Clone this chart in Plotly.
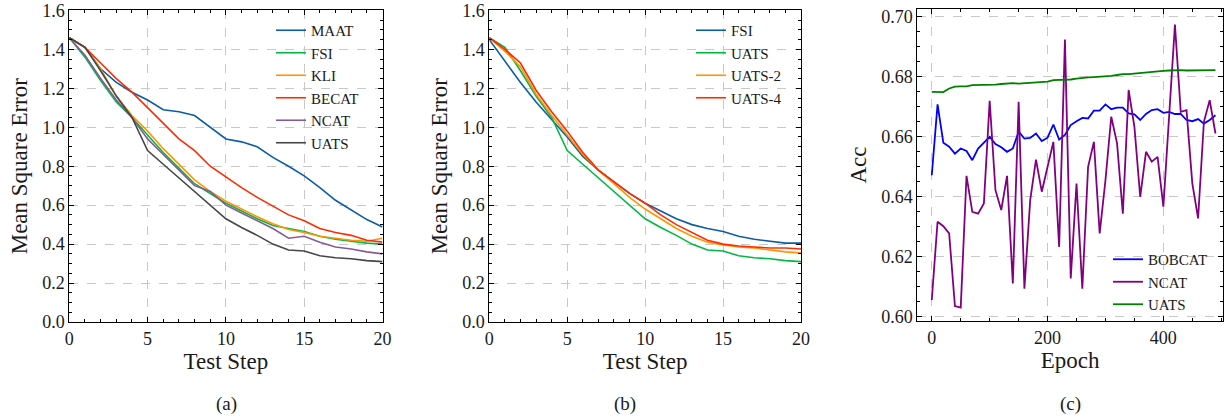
import plotly.graph_objects as go

# ---------------- data ----------------
steps = list(range(21))

# panel (a)
a_maat = [1.46, 1.41, 1.30, 1.23, 1.18, 1.14, 1.09, 1.08, 1.06, 1.00, 0.94, 0.925, 0.90, 0.845, 0.80, 0.75, 0.69, 0.625, 0.574, 0.526, 0.488]
a_fsi = [1.46, 1.36, 1.24, 1.13, 1.05, 0.96, 0.87, 0.79, 0.71, 0.66, 0.61, 0.57, 0.53, 0.495, 0.48, 0.465, 0.44, 0.425, 0.415, 0.405, 0.40]
a_kli = [1.46, 1.41, 1.30, 1.16, 1.06, 0.98, 0.89, 0.81, 0.73, 0.67, 0.62, 0.58, 0.54, 0.505, 0.475, 0.46, 0.44, 0.43, 0.42, 0.415, 0.43]
a_becat = [1.46, 1.41, 1.33, 1.25, 1.18, 1.10, 1.02, 0.94, 0.88, 0.80, 0.745, 0.69, 0.64, 0.595, 0.55, 0.52, 0.48, 0.46, 0.445, 0.42, 0.41]
a_ncat = [1.46, 1.37, 1.25, 1.14, 1.05, 0.94, 0.86, 0.78, 0.70, 0.67, 0.60, 0.56, 0.52, 0.48, 0.43, 0.44, 0.41, 0.385, 0.375, 0.36, 0.35]
a_uats = [1.46, 1.41, 1.29, 1.16, 1.05, 0.88, 0.81, 0.74, 0.67, 0.60, 0.53, 0.485, 0.445, 0.40, 0.37, 0.365, 0.34, 0.33, 0.325, 0.315, 0.31]

# panel (b)
b_fsi = [1.45, 1.34, 1.23, 1.13, 1.04, 0.95, 0.85, 0.78, 0.72, 0.66, 0.61, 0.57, 0.53, 0.50, 0.48, 0.465, 0.44, 0.425, 0.415, 0.405, 0.405]
b_uats = [1.46, 1.41, 1.29, 1.16, 1.05, 0.88, 0.81, 0.74, 0.67, 0.60, 0.53, 0.485, 0.445, 0.40, 0.37, 0.365, 0.34, 0.33, 0.325, 0.315, 0.31]
b_uats2 = [1.46, 1.39, 1.31, 1.17, 1.06, 0.96, 0.86, 0.78, 0.71, 0.64, 0.58, 0.53, 0.48, 0.44, 0.41, 0.395, 0.385, 0.38, 0.37, 0.36, 0.355]
b_uats4 = [1.46, 1.40, 1.33, 1.19, 1.08, 0.98, 0.87, 0.78, 0.72, 0.66, 0.61, 0.55, 0.50, 0.46, 0.42, 0.40, 0.39, 0.385, 0.38, 0.38, 0.375]

# panel (c)
epochs = list(range(0, 500, 10))
c_bobcat = [0.6472, 0.6708, 0.6580, 0.6567, 0.6544, 0.6561, 0.6553, 0.6522, 0.6561, 0.6580,
            0.6600, 0.6576, 0.6565, 0.6550, 0.6561, 0.6617, 0.6594, 0.6596, 0.6611, 0.6586,
            0.6597, 0.6641, 0.6591, 0.6606, 0.6639, 0.6652, 0.6663, 0.6661, 0.6687, 0.6687,
            0.6708, 0.6692, 0.6697, 0.6697, 0.6678, 0.6675, 0.6656, 0.6676, 0.6689, 0.6692,
            0.6680, 0.6683, 0.6676, 0.6676, 0.6656, 0.6652, 0.6659, 0.6644, 0.6656, 0.6672]
c_ncat = [0.6056, 0.6317, 0.6302, 0.6278, 0.6036, 0.6031, 0.6470, 0.6350, 0.6344, 0.6378,
          0.6720, 0.6422, 0.6356, 0.6470, 0.6111, 0.6717, 0.6094, 0.6389, 0.6524, 0.6417,
          0.6500, 0.6583, 0.6233, 0.6924, 0.6128, 0.6444, 0.6094, 0.6500, 0.6583, 0.6278,
          0.6456, 0.6667, 0.6578, 0.6344, 0.6756, 0.6633, 0.6400, 0.6550, 0.6517, 0.6533,
          0.6367, 0.6670, 0.6974, 0.6683, 0.6689, 0.6445, 0.6328, 0.6650, 0.6722, 0.6611]
c_uats = [0.6750, 0.6750, 0.6749, 0.6761, 0.6767, 0.6768, 0.6768, 0.6772, 0.6772, 0.6772,
          0.6773, 0.6774, 0.6776, 0.6778, 0.6779, 0.6777, 0.6778, 0.6779, 0.6780, 0.6782,
          0.6784, 0.6789, 0.6789, 0.6789, 0.6791, 0.6794, 0.6797, 0.6798, 0.6799, 0.6800,
          0.6802, 0.6803, 0.6806, 0.6809, 0.6809, 0.6811, 0.6812, 0.6815, 0.6818, 0.6819,
          0.6820, 0.6821, 0.6822, 0.6822, 0.6821, 0.6821, 0.6821, 0.6822, 0.6823, 0.6822]

# ---------------- figure ----------------
FONT = "Liberation Serif"
W, H = 1224, 417

fig = go.Figure()

def add(x, y, name, color, xa, ya, legend, width=1.6):
    fig.add_trace(go.Scatter(x=x, y=y, name=name, mode="lines",
                             line=dict(color=color, width=width),
                             xaxis=xa, yaxis=ya, legend=legend))

for name, y, c in [("MAAT", a_maat, "#0C5DA5"), ("FSI", a_fsi, "#00B945"),
                   ("KLI", a_kli, "#FF9500"), ("BECAT", a_becat, "#FF2C00"),
                   ("NCAT", a_ncat, "#845B97"), ("UATS", a_uats, "#474747")]:
    add(steps, y, name, c, "x", "y", "legend")

for name, y, c in [("FSI", b_fsi, "#0C5DA5"), ("UATS", b_uats, "#00B945"),
                   ("UATS-2", b_uats2, "#FF9500"), ("UATS-4", b_uats4, "#FF2C00")]:
    add(steps, y, name, c, "x2", "y2", "legend2")

for name, y, c in [("BOBCAT", c_bobcat, "#0000FF"), ("NCAT", c_ncat, "#800080"),
                   ("UATS", c_uats, "#008000")]:
    add(epochs, y, name, c, "x3", "y3", "legend3", width=1.8)

def px(v):
    return v / W

def py(v):
    return 1 - v / H

TXT = "#1a1a1a"
common = dict(showline=True, linecolor="black", linewidth=1, mirror="allticks",
              ticks="inside", ticklen=5, tickwidth=1, tickcolor="black",
              showgrid=True, gridcolor="#c8c8c8", griddash="dash", gridwidth=0.8,
              zeroline=False, automargin=False,
              tickfont=dict(family=FONT, size=18, color=TXT),
              title_font=dict(family=FONT, size=23, color=TXT))

mnr = dict(ticks="inside", ticklen=3, tickwidth=1, tickcolor="black", showgrid=False)

fig.update_layout(
    xaxis=dict(common, domain=[px(69.3), px(382.5)], range=[0, 20], dtick=5, tick0=0,
               minor=dict(mnr, dtick=1), anchor="y",
               title=dict(text="Test Step", standoff=0)),
    yaxis=dict(common, domain=[py(322), py(10.4)], range=[0, 1.6], dtick=0.2, tick0=0,
               tickformat=".1f", minor=dict(mnr, dtick=0.05), anchor="x",
               title=dict(text="Mean Square Error", standoff=8)),
    xaxis2=dict(common, domain=[px(489.3), px(801)], range=[0, 20], dtick=5, tick0=0,
                minor=dict(mnr, dtick=1), anchor="y2",
                title=dict(text="Test Step", standoff=0)),
    yaxis2=dict(common, domain=[py(322), py(10.4)], range=[0, 1.6], dtick=0.2, tick0=0,
                tickformat=".1f", minor=dict(mnr, dtick=0.05), anchor="x2",
                title=dict(text="Mean Square Error", standoff=8)),
    xaxis3=dict(common, domain=[px(917.3), px(1223)], range=[-25, 503], dtick=200, tick0=0,
                minor=dict(mnr, dtick=50), anchor="y3",
                title=dict(text="Epoch", standoff=0)),
    yaxis3=dict(common, domain=[py(321), py(9)], range=[0.5986, 0.7026], dtick=0.02, tick0=0.6,
                tickformat=".2f", minor=dict(mnr, dtick=0.005), anchor="x3",
                title=dict(text="Acc", standoff=8)),
)

legend_common = dict(bgcolor="rgba(0,0,0,0)", borderwidth=0,
                     font=dict(family=FONT, size=15, color=TXT),
                     xanchor="left", yanchor="top", tracegroupgap=0, itemwidth=30)
fig.update_layout(
    legend=dict(legend_common, x=px(271), y=py(14)),
    legend2=dict(legend_common, x=px(691), y=py(14)),
    legend3=dict(legend_common, x=px(1108), y=py(243)),
    showlegend=True,
)

for txt, xc in [("(a)", 226), ("(b)", 625), ("(c)", 1070)]:
    fig.add_annotation(text=txt, x=px(xc), y=py(404), xref="paper", yref="paper",
                       showarrow=False, xanchor="center", yanchor="middle",
                       font=dict(family=FONT, size=19, color=TXT))

fig.update_layout(width=W, height=H, margin=dict(l=0, r=0, t=0, b=0),
                  paper_bgcolor="white", plot_bgcolor="white",
                  font=dict(family=FONT, color=TXT))

fig.write_html("out.html", config={"displayModeBar": False},
               post_script="document.body.style.margin='0px';document.body.style.overflow='hidden';")
